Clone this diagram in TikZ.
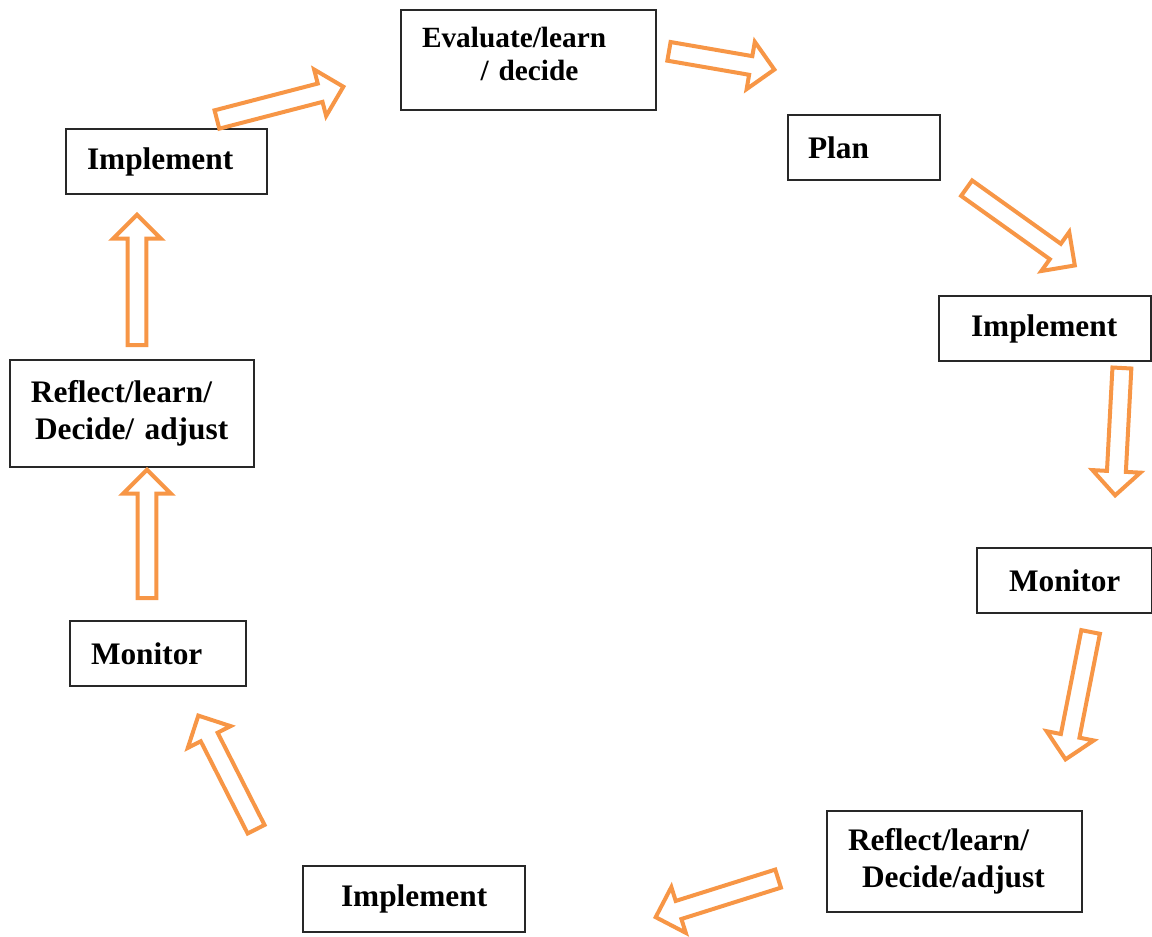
\documentclass[tikz,border=0pt]{standalone}
\usepackage{fontspec}
\setmainfont{Liberation Serif}
\usepackage{tikz}
\usetikzlibrary{calc}
\definecolor{cycleorange}{RGB}{247,150,70}
\definecolor{boxline}{RGB}{40,40,40}
% hollow block arrow from #1 to #2
\newcommand{\blockarrow}[2]{%
  \path let \p1=($(#2)-(#1)$) in
    \pgfextra{\pgfmathsetmacro{\arrowang}{atan2(\y1,\x1)}%
      \pgfmathsetmacro{\arrowlen}{veclen(\x1,\y1)}%
      \xdef\arrowang{\arrowang}\xdef\arrowlen{\arrowlen}};
  \draw[cyclearrow,shift={(#1)},rotate=\arrowang]
    (1.5pt,-7.1pt) -- (\arrowlen pt-20pt,-7.1pt) -- (\arrowlen pt-20pt,-18pt)
    -- (\arrowlen pt-2pt,0pt) -- (\arrowlen pt-20pt,18pt)
    -- (\arrowlen pt-20pt,7.1pt) -- (1.5pt,7.1pt) -- cycle;
}

\begin{document}
\begin{tikzpicture}[x=0.75pt,y=-0.75pt,line join=miter]
\tikzset{
  stage/.style={draw=boxline,line width=0.8pt,fill=white,align=left,
    inner ysep=0pt,font=\bfseries\fontsize{23.5}{27.75}\selectfont},
  cyclearrow/.style={draw=cycleorange,line width=3pt,fill=white}
}
\useasboundingbox (0,0) rectangle (1152,936);

% boxes
\node[stage,minimum width={255*0.75pt},minimum height={100*0.75pt},
  inner xsep={21*0.75pt},text width={213*0.75pt},
  font=\bfseries\fontsize{22}{25}\selectfont] (eval) at (528.5,60)
  {Evaluate/learn\\\hspace*{44pt}/ decide\rule[-9pt]{0pt}{0pt}};
\node[stage,minimum width={152*0.75pt},minimum height={65*0.75pt},
  inner xsep={20*0.75pt},text width={112*0.75pt}] (plan) at (864,147.5) {Plan};
\node[stage,minimum width={212*0.75pt},minimum height={65*0.75pt},
  inner xsep={32*0.75pt},text width={148*0.75pt}] (implR) at (1045,328.5) {Implement};
\node[stage,minimum width={175*0.75pt},minimum height={65*0.75pt},
  inner xsep={32*0.75pt},text width={111*0.75pt}] (monR) at (1064.5,580.5) {Monitor};
\node[stage,minimum width={255*0.75pt},minimum height={101*0.75pt},
  inner xsep={21*0.75pt},text width={213*0.75pt}] (reflR) at (954.5,861.5)
  {Reflect/learn/\\\hspace*{10.5pt}Decide/adjust};
\node[stage,minimum width={222*0.75pt},minimum height={66*0.75pt},
  inner xsep={38*0.75pt},text width={146*0.75pt}] (implB) at (414,899) {Implement};
\node[stage,minimum width={176*0.75pt},minimum height={65*0.75pt},
  inner xsep={21*0.75pt},text width={134*0.75pt}] (monL) at (158,653.5) {Monitor};
\node[stage,minimum width={244*0.75pt},minimum height={107*0.75pt},
  inner xsep={21*0.75pt},text width={202*0.75pt}] (reflL) at (132,413.5)
  {Reflect/learn/\\\hspace*{3pt}Decide/ adjust};
\node[stage,minimum width={201*0.75pt},minimum height={65*0.75pt},
  inner xsep={21*0.75pt},text width={159*0.75pt}] (implL) at (166.5,161.5) {Implement};

% arrow ends
\coordinate (t1) at (215,120);  \coordinate (h1) at (346,86);
\coordinate (t2) at (667,51);   \coordinate (h2) at (777,70);
\coordinate (t3) at (965,187);  \coordinate (h3) at (1077,267);
\coordinate (t4) at (1122,366); \coordinate (h4) at (1115,498);
\coordinate (t5) at (1091,630); \coordinate (h5) at (1065,762);
\coordinate (t6) at (780,878);  \coordinate (h6) at (653,918);
\coordinate (t7) at (257,831);  \coordinate (h7) at (197,713);
\coordinate (t8) at (147,600);  \coordinate (h8) at (147,467);
\coordinate (t9) at (137,347);  \coordinate (h9) at (137,212);

% arrows
\foreach \i in {1,...,9} {\blockarrow{t\i}{h\i}}
\end{tikzpicture}
\end{document}
